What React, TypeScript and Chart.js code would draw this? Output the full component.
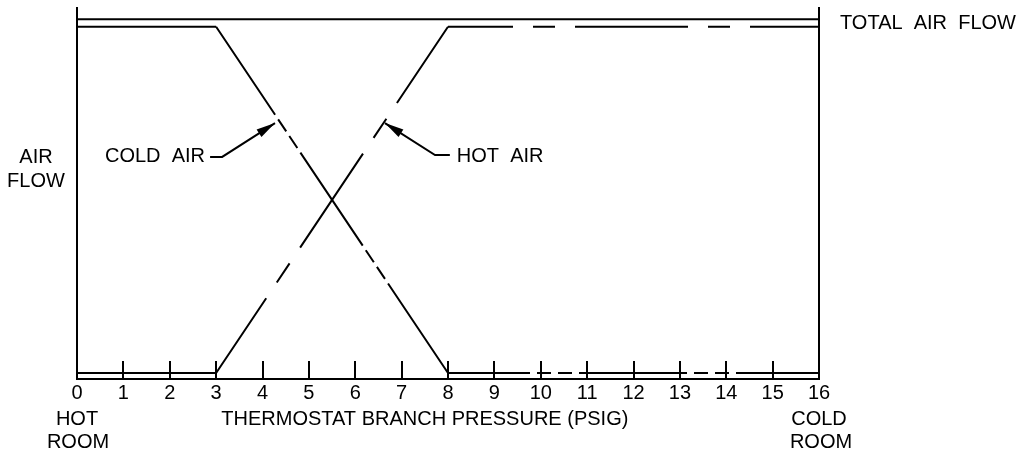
import { useEffect, useRef } from "react";
import { Chart, registerables } from "chart.js";

Chart.register(...registerables);

// ---- data ----
const pressureTicks = [0, 1, 2, 3, 4, 5, 6, 7, 8, 9, 10, 11, 12, 13, 14, 15, 16];
const breakPressures = [0, 3, 8, 16];
const coldAirFlow = [94.7, 94.7, 1.6, 1.6];
const hotAirFlow = [1.6, 1.6, 94.7, 94.7];
const totalPressures = [0, 16];
const totalAirFlow = [96.7, 96.7];

// annotation anchors (data units: pressure, flow)
const coldPointer = { text: [2.76, 59.7], elbow: [3.13, 59.7], start: [2.87, 59.7], tip: [4.27, 68.8] };
const hotPointer = { text: [8.19, 59.7], elbow: [7.72, 60.2], start: [8.04, 60.2], tip: [6.64, 68.8] };
const axisTitleCenter = 7.5;

// ---- styles ----
const coldDash = [[], [112, 5.5, 14.5, 5.5, 14.5, 5.5], [108, 7, 14, 7, 14, 7]];
const coldDashOffset = [0, 6, 26];
const hotDash = [[], [113, 19, 23, 19], [113, 20, 22, 20]];
const hotDashOffset = [0, 23, 48];
const FONT = '20px "Liberation Sans", Arial, sans-serif';

function arrow(ctx: CanvasRenderingContext2D, fx: number, fy: number, tx: number, ty: number) {
  const ang = Math.atan2(ty - fy, tx - fx);
  const len = 19;
  const hw = 4.5;
  const bx = tx - Math.cos(ang) * len;
  const by = ty - Math.sin(ang) * len;
  ctx.beginPath();
  ctx.moveTo(tx, ty);
  ctx.lineTo(bx + Math.sin(ang) * hw, by - Math.cos(ang) * hw);
  ctx.lineTo(bx - Math.sin(ang) * hw, by + Math.cos(ang) * hw);
  ctx.closePath();
  ctx.fill();
}

const annotate = {
  id: "annotate",
  afterDraw(chart: any) {
    const { ctx, chartArea: a } = chart;
    const x = chart.scales.x;
    const y = chart.scales.y;
    const px = (v: number) => x.getPixelForValue(v);
    const py = (v: number) => y.getPixelForValue(v);
    ctx.save();
    ctx.strokeStyle = "#000";
    ctx.fillStyle = "#000";
    ctx.lineWidth = 2;
    ctx.lineCap = "butt";
    // frame verticals
    ctx.beginPath();
    ctx.moveTo(a.left, a.top);
    ctx.lineTo(a.left, a.bottom);
    ctx.moveTo(a.right, a.top);
    ctx.lineTo(a.right, a.bottom);
    ctx.stroke();
    // inward tick marks
    ctx.beginPath();
    for (const t of pressureTicks) {
      const p = Math.round(px(t));
      ctx.moveTo(p, a.bottom);
      ctx.lineTo(p, a.bottom - 18);
    }
    ctx.stroke();

    // pointers
    for (const ptr of [coldPointer, hotPointer]) {
      ctx.beginPath();
      ctx.moveTo(px(ptr.start[0]), py(ptr.start[1]));
      ctx.lineTo(px(ptr.elbow[0]), py(ptr.elbow[1]));
      ctx.lineTo(px(ptr.tip[0]), py(ptr.tip[1]));
      ctx.stroke();
      arrow(ctx, px(ptr.elbow[0]), py(ptr.elbow[1]), px(ptr.tip[0]), py(ptr.tip[1]));
    }

    ctx.font = FONT;
    ctx.textBaseline = "middle";
    ctx.textAlign = "right";
    ctx.fillText("COLD  AIR", px(coldPointer.text[0]), py(coldPointer.text[1]));
    ctx.textAlign = "left";
    ctx.fillText("HOT  AIR", px(hotPointer.text[0]), py(hotPointer.text[1]));
    ctx.fillText("TOTAL  AIR  FLOW", a.right + 21, py(totalAirFlow[0]) + 4);

    ctx.textAlign = "center";
    ctx.fillText("AIR", a.left - 41, 157.5);
    ctx.fillText("FLOW", a.left - 41, 181.5);

    const row1 = a.bottom + 40.5;
    const row2 = a.bottom + 63.5;
    ctx.fillText("HOT", px(0), row1);
    ctx.fillText("ROOM", px(0) + 1, row2);
    ctx.fillText("COLD", px(16), row1);
    ctx.fillText("ROOM", px(16) + 2, row2);
    ctx.fillText("THERMOSTAT BRANCH PRESSURE (PSIG)", px(axisTitleCenter), row1);
    ctx.restore();
  },
};

export default function App() {
  const ref = useRef<HTMLCanvasElement | null>(null);
  useEffect(() => {
    if (!ref.current) return;
    const toPts = (xs: number[], ys: number[]) => xs.map((v, i) => ({ x: v, y: ys[i] }));
    const chart = new Chart(ref.current, {
      type: "line",
      data: {
        datasets: [
          {
            label: "TOTAL AIR FLOW",
            data: toPts(totalPressures, totalAirFlow),
            borderColor: "#000",
            borderWidth: 2,
            pointRadius: 0,
          },
          {
            label: "COLD AIR",
            data: toPts(breakPressures, coldAirFlow),
            borderColor: "#000",
            borderWidth: 2,
            pointRadius: 0,
            segment: {
              borderDash: (c: any) => coldDash[c.p0DataIndex],
              borderDashOffset: (c: any) => coldDashOffset[c.p0DataIndex],
            },
          },
          {
            label: "HOT AIR",
            data: toPts(breakPressures, hotAirFlow),
            borderColor: "#000",
            borderWidth: 2,
            pointRadius: 0,
            segment: {
              borderDash: (c: any) => hotDash[c.p0DataIndex],
              borderDashOffset: (c: any) => hotDashOffset[c.p0DataIndex],
            },
          },
        ],
      },
      options: {
        responsive: false,
        animation: false,
        events: [],
        layout: { padding: { left: 77, right: 205, top: 7, bottom: 0 } },
        plugins: { legend: { display: false }, tooltip: { enabled: false } },
        elements: { line: { tension: 0 } },
        scales: {
          x: {
            type: "linear",
            min: 0,
            max: 16,
            afterBuildTicks: (s: any) => {
              s.ticks = pressureTicks.map((v) => ({ value: v }));
            },
            afterFit: (s: any) => {
              s.height = 74;
            },
            grid: { drawOnChartArea: false, drawTicks: false },
            border: { display: true, color: "#000", width: 2 },
            ticks: {
              autoSkip: false,
              maxRotation: 0,
              padding: 2,
              color: "#000",
              font: { family: '"Liberation Sans", Arial, sans-serif', size: 20 },
            },
          },
          y: { type: "linear", min: 0, max: 100, display: false },
        },
      },
      plugins: [annotate],
    });
    return () => chart.destroy();
  }, []);
  return (
    <div style={{ position: "fixed", left: 0, top: 0, width: 1024, height: 453, background: "#fff" }}>
      <canvas ref={ref} width={1024} height={453} style={{ display: "block" }} />
    </div>
  );
}
